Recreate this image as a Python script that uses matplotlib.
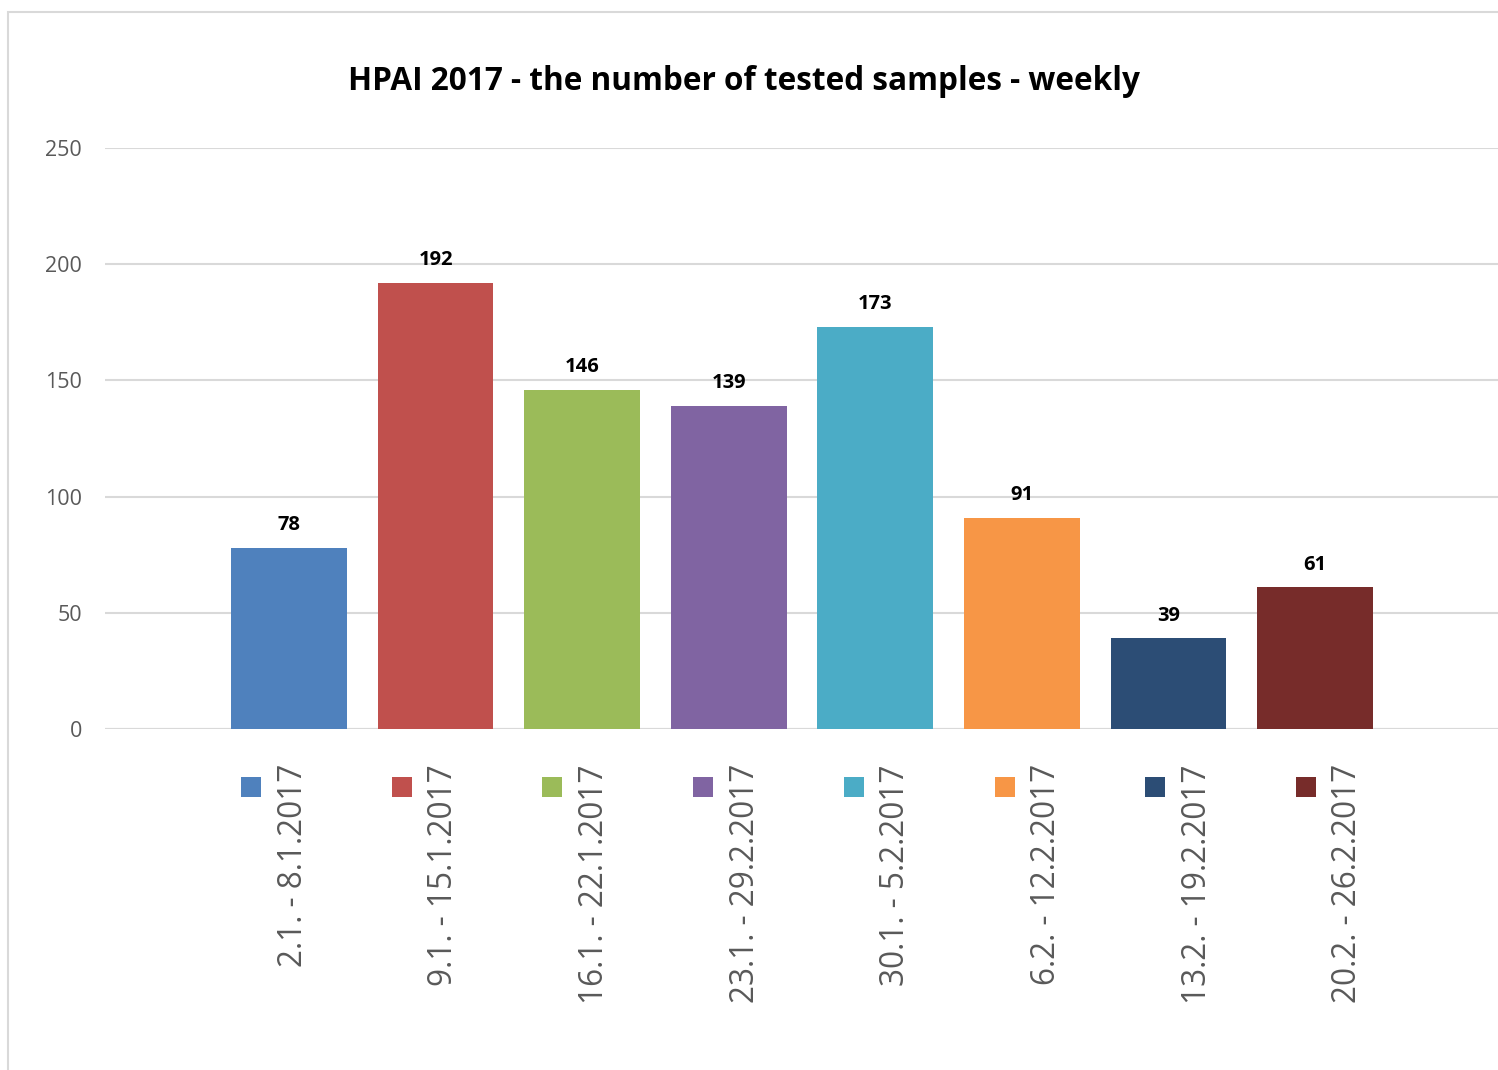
import matplotlib.pyplot as plt
from matplotlib.patches import Rectangle

weeks = ["2.1. - 8.1.2017", "9.1. - 15.1.2017", "16.1. - 22.1.2017", "23.1. - 29.2.2017",
         "30.1. - 5.2.2017", "6.2. - 12.2.2017", "13.2. - 19.2.2017", "20.2. - 26.2.2017"]
samples = [78, 192, 146, 139, 173, 91, 39, 61]
colors = ["#4F81BD", "#C0504D", "#9BBB59", "#8064A2", "#4BACC6", "#F79646", "#2C4D75", "#772C2A"]

plt.rcParams["font.family"] = ["Open Sans", "DejaVu Sans"]

W, H = 1498, 1070
fig = plt.figure(figsize=(W / 100, H / 100), dpi=100)

# light frame around the chart area
fig.patches.append(Rectangle((8 / W, -0.1), 1.2, 1 - 12 / H + 0.1, transform=fig.transFigure,
                             fill=False, edgecolor="#d9d9d9", linewidth=1.5))

ax = fig.add_axes([105 / W, 1 - 729 / H, (1498 - 105) / W, (729 - 148) / H])
x = list(range(len(samples)))
ax.bar(x, samples, width=0.79, color=colors, zorder=3)
for xi, v in zip(x, samples):
    ax.annotate(str(v), (xi, v), xytext=(0, 9), textcoords="offset points",
                ha="center", va="bottom", fontsize=14.5, fontweight="bold", color="black")

ax.set_xlim(-1.255, 8.247)
ax.set_ylim(0, 250)
ax.set_yticks(range(0, 251, 50))
ax.yaxis.grid(True, color="#d9d9d9", linewidth=1.5, zorder=0)
ax.set_xticks([])
for s in ["top", "right", "left", "bottom"]:
    ax.spines[s].set_visible(False)
ax.tick_params(axis="y", length=0, pad=16.5, labelsize=15.5, labelcolor="#595959")
ax.axhline(0, color="#d9d9d9", linewidth=1.5, zorder=2)

fig.text(744 / W, 1 - 81 / H, "HPAI 2017 - the number of tested samples - weekly",
         ha="center", va="center", fontsize=22.7, fontweight="bold", color="black")

# legend below the plot with rotated entries
for i, (lab, c) in enumerate(zip(weeks, colors)):
    mx = 241 + i * 150.7
    fig.patches.append(Rectangle((mx / W, 1 - 797 / H), 20 / W, 20 / H, transform=fig.transFigure,
                                 facecolor=c, edgecolor="none"))
    fig.text((mx + 52) / W, 1 - 764 / H, lab, rotation=90, ha="center", va="top",
             fontsize=22.7, color="#595959")

fig.savefig("out.png", dpi=100)
